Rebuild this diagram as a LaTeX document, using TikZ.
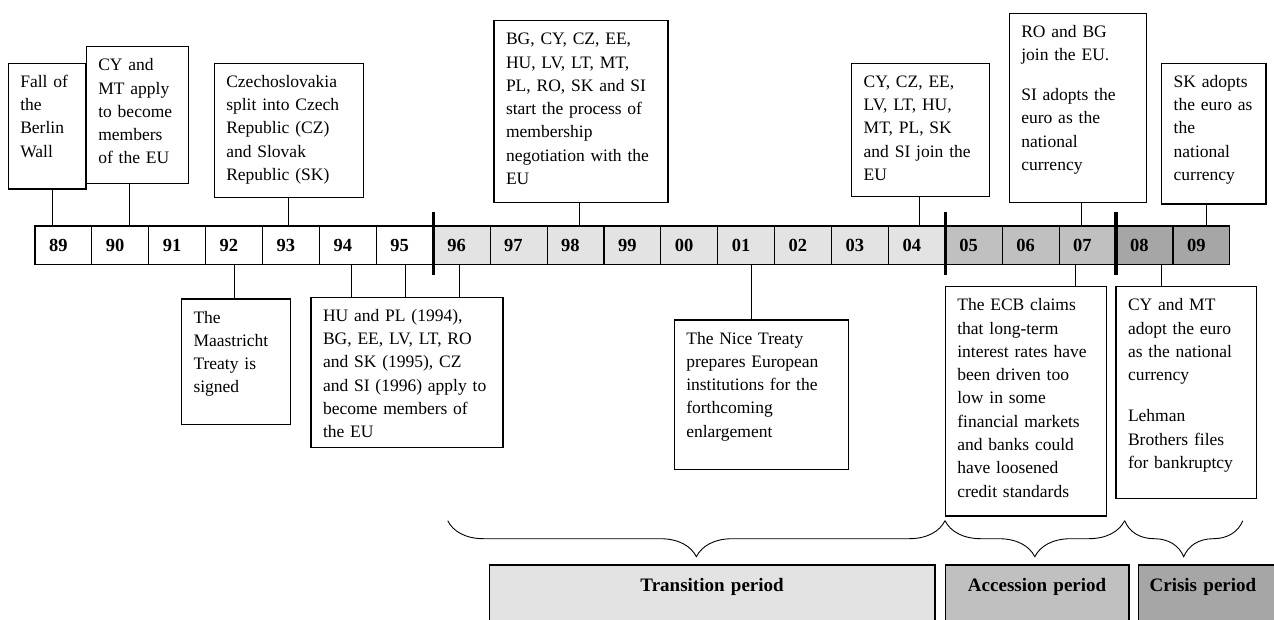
\documentclass[tikz,border=0pt]{standalone}
\usepackage{fontspec}
\setmainfont{Liberation Serif}
\usepackage{tikz}
\usetikzlibrary{positioning,calc,decorations.pathreplacing}
\definecolor{TransGray}{HTML}{E3E3E3}
\definecolor{AccGray}{HTML}{C0C0C0}
\definecolor{CrisisGray}{HTML}{A6A6A6}

\begin{document}
\begin{tikzpicture}[
  x=1pt,y=-1pt,
  yr/.style={draw,line width=1.1pt,outer sep=0pt,minimum width=56.9pt,minimum height=38.3pt,inner xsep=14pt,text width=28.9pt,align=left,font=\bfseries\fontsize{18.5}{22}\selectfont},
  ev/.style 2 args={draw,line width=1.1pt,outer sep=0pt,anchor=north west,align=left,inner xsep=12pt,inner ysep=0pt,text height=24pt,text width=#1,text depth=#2,font=\fontsize{17.5}{23.3}\selectfont},
  period/.style={draw,line width=1.1pt,outer sep=0pt,anchor=north west,align=center,inner xsep=0pt,inner ysep=0pt,text height=26.7pt,text depth=60pt,text width=#1,font=\bfseries\fontsize{19}{22}\selectfont},
  conn/.style={line width=0.9pt},
  divider/.style={line width=3.3pt},
  brace/.style={decorate,decoration={brace,amplitude=36pt,mirror},line width=0.9pt}
]
\path[use as bounding box,clip] (0,0) rectangle (1274,619);

\node[yr] (y89) at (63.45,245.15) {89};
\node[yr,right=0pt of y89] (y90) {90};
\node[yr,right=0pt of y90] (y91) {91};
\node[yr,right=0pt of y91] (y92) {92};
\node[yr,right=0pt of y92] (y93) {93};
\node[yr,right=0pt of y93] (y94) {94};
\node[yr,right=0pt of y94] (y95) {95};
\node[yr,fill=TransGray,right=0pt of y95] (y96) {96};
\node[yr,fill=TransGray,right=0pt of y96] (y97) {97};
\node[yr,fill=TransGray,right=0pt of y97] (y98) {98};
\node[yr,fill=TransGray,right=0pt of y98] (y99) {99};
\node[yr,fill=TransGray,right=0pt of y99] (y00) {00};
\node[yr,fill=TransGray,right=0pt of y00] (y01) {01};
\node[yr,fill=TransGray,right=0pt of y01] (y02) {02};
\node[yr,fill=TransGray,right=0pt of y02] (y03) {03};
\node[yr,fill=TransGray,right=0pt of y03] (y04) {04};
\node[yr,fill=AccGray,right=0pt of y04] (y05) {05};
\node[yr,fill=AccGray,right=0pt of y05] (y06) {06};
\node[yr,fill=AccGray,right=0pt of y06] (y07) {07};
\node[yr,fill=CrisisGray,right=0pt of y07] (y08) {08};
\node[yr,fill=CrisisGray,right=0pt of y08] (y09) {09};

\draw[divider] ([yshift=14.3pt]y96.north west) -- ([yshift=-10.7pt]y96.south west);
\draw[divider] ([yshift=14.3pt]y05.north west) -- ([yshift=-10.7pt]y05.south west);
\draw[divider] ([yshift=14.3pt]y08.north west) -- ([yshift=-10.7pt]y08.south west);

\node[ev={53.7pt}{101.7pt}] (wall) at (8.3,63.3) {Fall of\\the\\Berlin\\Wall};
\node[ev={78pt}{112.6pt}] (apply) at (86.3,46.7) {CY and\\MT apply\\to become\\members\\of the EU};
\node[ev={125pt}{110pt}] (split) at (214.3,63.3) {Czechoslovakia\\split into Czech\\Republic (CZ)\\and Slovak\\Republic (SK)};
\node[ev={150pt}{157.6pt}] (nego) at (494,20.7) {BG, CY, CZ, EE,\\HU, LV, LT, MT,\\PL, RO, SK and SI\\start the process of\\membership\\negotiation with the\\EU};
\node[ev={113.6pt}{109.4pt}] (join) at (851.7,63.3) {CY, CZ, EE,\\LV, LT, HU,\\MT, PL, SK\\and SI join the\\EU};
\node[ev={113.4pt}{165.4pt}] (robg) at (1009.3,13.3) {RO and BG\\join the EU.\\[16.7pt]SI adopts the\\euro as the\\national\\currency};
\node[ev={80.3pt}{116.7pt}] (skeuro) at (1161.7,63.3) {SK adopts\\the euro as\\the\\national\\currency};

\node[ev={84.9pt}{101.3pt}] (maas) at (181.5,299) {The\\Maastricht\\Treaty is\\signed};
\node[ev={168pt}{126pt}] (cand) at (311,297.3) {HU and PL (1994),\\BG, EE, LV, LT, RO\\and SK (1995), CZ\\and SI (1996) apply to\\become members of\\the EU};
\node[ev={150pt}{125.3pt}] (nice) at (674.3,320) {The Nice Treaty\\prepares European\\institutions for the\\forthcoming\\enlargement};
\node[ev={137.4pt}{205.3pt}] (ecb) at (945.3,286.7) {The ECB claims\\that long-term\\interest rates have\\been driven too\\low in some\\financial markets\\and banks could\\have loosened\\credit standards};
\node[ev={116.7pt}{187.6pt}] (lehman) at (1116,286.7) {CY and MT\\adopt the euro\\as the national\\currency\\[18pt]Lehman\\Brothers files\\for bankruptcy};

\draw[conn] ($(wall.south west)!.566!(wall.south east)$) coordinate (c) -- (c |- y89.north);
\draw[conn] ($(apply.south west)!.42!(apply.south east)$) coordinate (c) -- (c |- y90.north);
\draw[conn] ($(split.south west)!.497!(split.south east)$) coordinate (c) -- (c |- y93.north);
\draw[conn] ($(nego.south west)!.49!(nego.south east)$) coordinate (c) -- (c |- y98.north);
\draw[conn] ($(join.south west)!.49!(join.south east)$) coordinate (c) -- (c |- y04.north);
\draw[conn] ($(robg.south west)!.527!(robg.south east)$) coordinate (c) -- (c |- y07.north);
\draw[conn] ($(skeuro.south west)!.43!(skeuro.south east)$) coordinate (c) -- (c |- y09.north);

\draw[conn] ($(maas.north west)!.49!(maas.north east)$) coordinate (c) -- (c |- y92.south);
\draw[conn] ($(cand.north west)!.212!(cand.north east)$) coordinate (c) -- (c |- y94.south);
\draw[conn] ($(cand.north west)!.49!(cand.north east)$) coordinate (c) -- (c |- y95.south);
\draw[conn] ($(cand.north west)!.772!(cand.north east)$) coordinate (c) -- (c |- y96.south);
\draw[conn] ($(nice.north west)!.445!(nice.north east)$) coordinate (c) -- (c |- y01.south);
\draw[conn] ($(ecb.north west)!.805!(ecb.north east)$) coordinate (c) -- (c |- y07.south);
\draw[conn] ($(lehman.north west)!.325!(lehman.north east)$) coordinate (c) -- (c |- y08.south);

\coordinate (tb) at (447.7,520.7);
\coordinate (ab) at (945,520.7);
\coordinate (cb) at (1124.6,520.7);
\coordinate (eb) at (1242.8,520.7);
\draw[brace] (tb) -- (ab);
\draw[brace] (ab) -- (cb);
\draw[brace] (cb) -- (eb);

\node[period=445.8pt,fill=TransGray] (trans) at (489.2,565) {Transition period};
\node[period=183.8pt,fill=AccGray] (acc) at (945.2,565) {Accession period};
\node[period=150pt,fill=CrisisGray,align=left,inner xsep=11pt] (crisis) at (1138.6,565) {Crisis period};
\end{tikzpicture}
\end{document}
